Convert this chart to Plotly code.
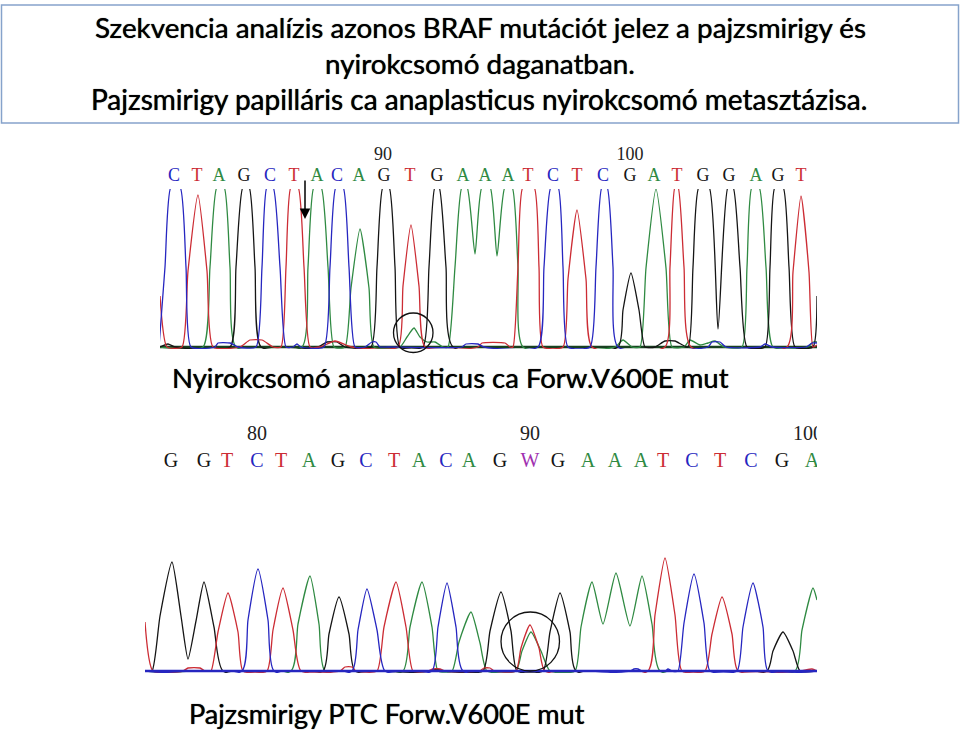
import plotly.graph_objects as go

W, H = 960, 730
def px(v): return v / W
def py(v): return 1 - v / H

TITLE_LINES = ["Szekvencia analízis azonos BRAF mutációt jelez a pajzsmirigy és",
               "nyirokcsomó daganatban.",
               "Pajzsmirigy papilláris ca anaplasticus nyirokcsomó metasztázisa."]
CAPTION_TOP = "Nyirokcsomó anaplasticus ca Forw.V600E mut"
CAPTION_BOTTOM = "Pajzsmirigy PTC Forw.V600E mut"

# upper chromatogram: scan position / signal (signal above 157 is off scale)
top_c_x = [159,165,171,180,186,191,215,218,230,238,256,262,267,273,280,286,293,297,301,324,330,336,343,349,355,365,372,376,380,388,462,466,478,484,538,544,551,558,563,568,590,596,602,607,613,618,708,712,720,726,760,765,772,806,812,817]
top_c_h = [0,80,160,160,80,0,0,4,4,0,0,80,160,160,80,0,0,3,0,0,80,160,160,80,0,0,5,5,0,0,0,3,3,0,0,80,160,160,80,0,0,80,160,160,80,0,0,5,5,0,0,3,0,0,4,4]
top_t_x = [160,167,182,188,198,207,213,240,250,262,273,281,286,291,298,304,310,320,335,352,398,403,411,419,425,478,482,505,510,513,518,523,534,539,543,563,568,577,586,592,665,670,675,678,684,691,787,793,801,809,813,817]
top_t_h = [51,0,0,76,152,76,0,0,7,7,0,0,80,160,160,80,0,0,6,0,0,61,122,61,0,0,4,4,0,0,80,160,160,80,0,0,68,137,68,0,0,80,160,160,80,0,0,75,151,75,0,2]
top_a_x = [160,203,210,217,224,230,236,302,308,314,321,328,334,345,351,360,369,374,400,407,414,420,427,435,443,448,455,462,467,475,482,490,497,505,512,518,523,615,623,632,640,646,656,666,672,684,690,700,708,715,724,742,747,752,759,766,773,808,813,817]
top_a_h = [0,0,80,160,160,80,0,0,80,160,160,80,0,0,59,118,59,0,0,10,19,10,5,5,0,0,80,160,160,93,160,160,91,160,160,80,0,0,7,0,0,79,158,79,0,0,7,2,4,6,0,0,80,160,160,80,0,0,5,5]
top_g_x = [160,168,175,230,236,243,249,255,261,318,327,337,345,371,377,383,389,395,400,423,429,435,439,446,453,618,623,631,639,645,655,665,675,688,693,699,709,718,728,733,740,747,765,770,775,783,789,795,813,817]
top_g_h = [0,3,0,0,80,160,160,80,0,0,5,5,0,0,80,160,160,80,0,0,80,160,160,80,0,0,37,74,37,0,0,6,6,0,80,160,160,18,160,160,80,0,0,80,160,160,80,0,0,51]
top_base_x = [160, 817]
top_base_h = [0, 0]

# lower chromatogram
bot_c_x = [145,242,248,258,268,274,352,358,367,377,385,432,438,447,456,463,630,634,638,642,665,668,672,678,684,694,704,710,737,743,753,763,768,817]
bot_c_h = [0,0,51,102,51,0,0,41,82,41,0,0,44,88,44,0,0,2,2,0,0,2,0,0,48,97,48,0,0,44,88,44,0,0]
bot_t_x = [145,153,183,188,200,205,211,218,228,238,243,267,273,283,293,301,340,345,352,356,377,384,396,406,413,428,433,440,445,480,484,490,494,516,521,530,539,545,648,655,665,675,682,705,712,722,732,738,800,812,817]
bot_t_h = [49,0,0,3,3,0,0,39,78,39,0,0,41,83,41,0,0,4,4,0,0,44,89,44,0,0,2,2,0,0,3,3,0,0,23,46,23,0,0,56,113,56,0,0,37,74,37,0,0,2,0]
bot_a_x = [145,291,298,310,319,325,403,410,422,432,438,452,459,471,480,487,516,522,531,541,550,575,581,592,603,616,630,642,652,660,795,802,813,817]
bot_a_h = [0,0,47,95,47,0,0,44,89,44,0,0,29,59,28,0,0,20,39,20,0,0,44,89,47,98,45,95,47,0,0,41,83,71]
bot_g_x = [145,152,160,172,181,188,196,204,214,223,323,329,339,349,355,430,437,444,483,490,501,511,517,543,550,560,570,576,767,773,783,793,800,817]
bot_g_h = [0,0,55,109,55,12,50,89,44,0,0,37,74,37,0,0,2,0,0,40,79,40,0,0,39,78,39,0,0,20,39,20,0,0]
bot_base_x = [145, 817]
bot_base_h = [0, 0]

# called bases and position numbers
top_bases = list("CTAGCTACAGTGAAATCTCGATGGAGT")
top_base_pos = [174,197,219,244,270,294,317,337,359,384,410,437,463,485,508,528,553,577,603,630,654,677,703,729,756,778,801]
top_num_pos = [383, 630]
top_num_txt = ["90", "100"]
bot_bases = list("GGTCTAGCTACAGWGAAATCTCGA")
bot_base_pos = [171,204,227,257,281,309,338,366,394,419,446,469,500,530,558,588,615,641,663,692,720,751,782,812]
bot_num_pos = [257, 530, 808]
bot_num_txt = ["80", "90", "100"]

COL = {"A": "#2f8a42", "C": "#2626c0", "G": "#151515", "T": "#cc2c34", "W": "#a030b0"}
SERIF = "Liberation Serif"
TXT = "Lato"

fig = go.Figure()

def trace(x, y, color, xa, ya, width=1.3, spline=True):
    fig.add_trace(go.Scatter(x=x, y=y, mode="lines", xaxis=xa, yaxis=ya, hoverinfo="skip",
                             line=dict(color=color, width=width, shape="spline" if spline else "linear", smoothing=0.55)))

def labels(bases, pos, nums, ntxt, xa, ya, y_letter, y_num, size):
    for b in sorted(set(bases)):
        idx = [i for i, c in enumerate(bases) if c == b]
        fig.add_trace(go.Scatter(x=[pos[i] for i in idx], y=[y_letter] * len(idx), text=[b] * len(idx),
                                 mode="text", xaxis=xa, yaxis=ya, hoverinfo="skip",
                                 textfont=dict(family=SERIF, size=size, color=COL[b])))
    fig.add_trace(go.Scatter(x=nums, y=[y_num] * len(nums), text=ntxt, mode="text", xaxis=xa, yaxis=ya,
                             hoverinfo="skip", textfont=dict(family=SERIF, size=size, color="#222222")))

trace(top_base_x, top_base_h, "#17401f", "x", "y", 2.4, False)
trace(top_a_x, top_a_h, COL["A"], "x", "y")
trace(top_g_x, top_g_h, COL["G"], "x", "y")
trace(top_t_x, top_t_h, COL["T"], "x", "y")
trace(top_c_x, top_c_h, COL["C"], "x", "y")
trace(bot_a_x, bot_a_h, COL["A"], "x2", "y2")
trace(bot_g_x, bot_g_h, COL["G"], "x2", "y2")
trace(bot_t_x, bot_t_h, COL["T"], "x2", "y2")
trace(bot_c_x, bot_c_h, COL["C"], "x2", "y2")
trace(bot_base_x, bot_base_h, COL["C"], "x2", "y2", 2.6, False)
labels(top_bases, top_base_pos, top_num_pos, top_num_txt, "x3", "y3", 0.21, 0.71, 18)
labels(bot_bases, bot_base_pos, bot_num_pos, bot_num_txt, "x4", "y4", 0.235, 0.725, 20)

hidden = dict(visible=False, fixedrange=True)
def xax(l, r, a, b): return dict(domain=[px(l), px(r)], range=[a, b], **hidden)
def yax(bottom, top, a, b, anchor): return dict(domain=[py(bottom), py(top)], range=[a, b], anchor=anchor, **hidden)

fig.update_layout(
    width=W, height=H, autosize=False, showlegend=False, margin=dict(l=0, r=0, t=0, b=0),
    paper_bgcolor="white", plot_bgcolor="rgba(0,0,0,0)",
    xaxis=xax(160, 817, 160, 817), yaxis=yax(349, 189, -2, 158, "x"),
    xaxis2=xax(145, 817, 145, 817), yaxis2=yax(673, 546, -2, 125, "x2"),
    xaxis3=xax(160, 817, 160, 817), yaxis3=yax(185, 143, 0, 1, "x3"),
    xaxis4=xax(145, 817, 145, 817), yaxis4=yax(475, 420, 0, 1, "x4"),
)

shapes = [
    dict(type="rect", xref="paper", yref="paper", x0=px(1.5), x1=px(958.5), y0=py(123), y1=py(5),
         line=dict(color="#86a3cb", width=1.5), fillcolor="rgba(0,0,0,0)"),
    dict(type="circle", xref="paper", yref="paper", x0=px(393.5), x1=px(433), y0=py(352.5), y1=py(313),
         line=dict(color="#111111", width=1.3)),
    dict(type="circle", xref="paper", yref="paper", x0=px(501), x1=px(559.5), y0=py(671), y1=py(612),
         line=dict(color="#111111", width=1.3)),
]
fig.update_layout(shapes=shapes)

def text(s, cx, cy, size):
    return dict(text=s, x=px(cx), y=py(cy), xref="paper", yref="paper", xanchor="center", yanchor="middle",
                showarrow=False, font=dict(family=TXT, size=size, color="black", shadow="0 0 0.8px #000"))

ann = [text(TITLE_LINES[0], 480, 27, 27.8), text(TITLE_LINES[1], 480, 64, 27.8), text(TITLE_LINES[2], 479, 99, 28),
       text(CAPTION_TOP, 450.5, 377, 27.5), text(CAPTION_BOTTOM, 386.5, 713, 27.1),
       dict(x=px(305), y=py(219), ax=0, ay=-40, xref="paper", yref="paper",
            text="", showarrow=True, arrowhead=2, arrowsize=1.4, arrowwidth=1.5, arrowcolor="black")]
fig.update_layout(annotations=ann)

fig.write_html("out.html", config={"displayModeBar": False},
               post_script="document.body.style.margin='0';document.documentElement.style.overflow='hidden';")
